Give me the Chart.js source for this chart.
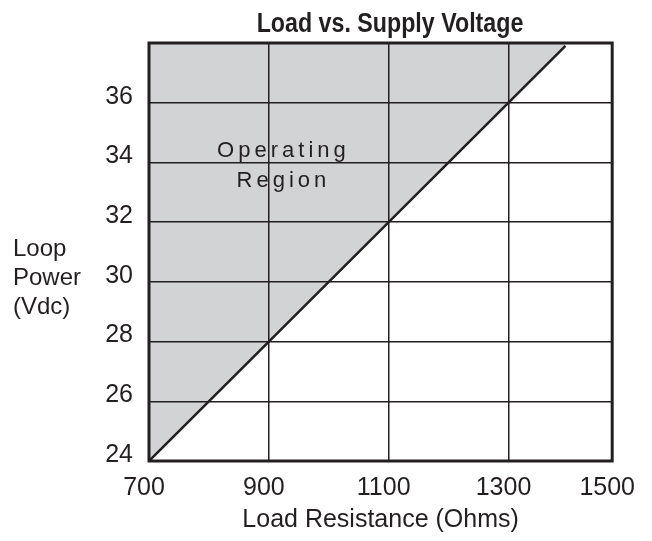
<!DOCTYPE html>
<html>
<head>
<meta charset="utf-8">
<script src="https://cdn.jsdelivr.net/npm/chart.js@4"></script>
<style>
  body { margin: 0; background: #fff; }
</style>
</head>
<body>
<canvas id="loadGraph" width="652" height="541"></canvas>
<script>
// load line: resistance (ohms) vs loop power (Vdc)
const resistance = [700, 900, 1100, 1300, 1395];
const loopPower = [24, 28, 32, 36, 37.9];

// the drawing squeezes the last column, so the edge tick sits at 1473 but reads 1500
const xTickValues = [700, 900, 1100, 1300, 1473];
const xTickLabels = ['700', '900', '1100', '1300', '1500'];
const yTickLabels = ['24', '26', '28', '30', '32', '34', '36'];

const ink = '#231f20';
const shade = '#d1d3d4';
const font = "'Liberation Sans', Arial, sans-serif";

Chart.defaults.font.family = font;
Chart.defaults.font.size = 25;
Chart.defaults.color = ink;

const textPlugin = {
  id: 'textPlugin',
  afterDraw(chart) {
    const ctx = chart.ctx;
    const area = chart.chartArea;
    const x = chart.scales.x;
    const y = chart.scales.y;

    // frame
    ctx.save();
    ctx.strokeStyle = ink;
    ctx.lineWidth = 3;
    ctx.strokeRect(area.left, area.top, area.right - area.left, area.bottom - area.top);

    ctx.fillStyle = ink;

    // title, squeezed a bit to look condensed
    ctx.save();
    ctx.translate(390, 32);
    ctx.scale(0.86, 1);
    ctx.font = 'bold 27px ' + font;
    ctx.textAlign = 'center';
    ctx.textBaseline = 'alphabetic';
    ctx.fillText('Load vs. Supply Voltage', 0, 0);
    ctx.restore();

    // y axis title, three lines
    ctx.font = '24px ' + font;
    ctx.textAlign = 'left';
    ['Loop', 'Power', '(Vdc)'].forEach((t, i) => {
      ctx.fillText(t, 13, 256 + i * 29);
    });

    // Operating Region label
    ctx.font = '22px ' + font;
    ctx.textAlign = 'center';
    ctx.letterSpacing = '4px';
    ctx.fillText('Operating', x.getPixelForValue(921) + 2, y.getPixelForValue(34.18));
    ctx.fillText('Region', x.getPixelForValue(921) + 2, y.getPixelForValue(33.18));
    ctx.restore();
  }
};

new Chart(document.getElementById('loadGraph'), {
  type: 'line',
  data: {
    datasets: [{
      data: resistance.map((r, i) => ({ x: r, y: loopPower[i] })),
      borderColor: ink,
      borderWidth: 2.5,
      pointRadius: 0,
      fill: 'end',
      backgroundColor: shade,
      tension: 0
    }]
  },
  options: {
    responsive: false,
    animation: false,
    layout: {
      padding: { top: 43, right: 37, bottom: 0, left: 0 }
    },
    plugins: {
      legend: { display: false },
      tooltip: { enabled: false },
      filler: { drawTime: 'beforeDraw' }
    },
    scales: {
      x: {
        type: 'linear',
        min: 700,
        max: 1473,
        afterBuildTicks: (scale) => {
          scale.ticks = xTickValues.map(v => ({ value: v }));
        },
        afterFit: (scale) => { scale.height = 80; },
        ticks: {
          padding: 12,
          labelOffset: -5,
          maxRotation: 0,
          callback: (v, i) => xTickLabels[i]
        },
        grid: { color: ink, lineWidth: 1.5, drawTicks: false },
        border: { display: false },
        title: {
          display: true,
          text: 'Load Resistance (Ohms)',
          font: { size: 25 },
          padding: { top: 0, bottom: 6 }
        }
      },
      y: {
        min: 24,
        max: 38,
        afterFit: (scale) => { scale.width = 149; },
        ticks: {
          stepSize: 2,
          padding: 16,
          labelOffset: -6,
          callback: (v, i) => yTickLabels[i] || ''
        },
        grid: { color: ink, lineWidth: 1.5, drawTicks: false },
        border: { display: false }
      }
    }
  },
  plugins: [textPlugin]
});
</script>
</body>
</html>
